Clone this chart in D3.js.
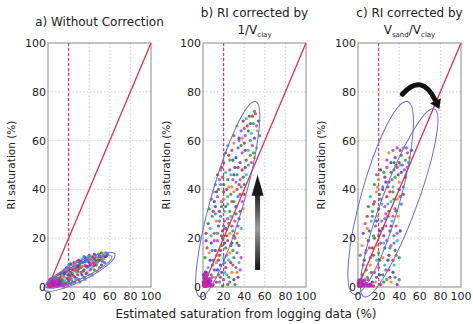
<!DOCTYPE html>
<html><head><meta charset="utf-8">
<script src="https://cdnjs.cloudflare.com/ajax/libs/d3/7.8.5/d3.min.js"></script>
<style>body{margin:0;background:#fff}text{font-family:"DejaVu Sans",Verdana,sans-serif}</style>
</head><body><svg id="c" width="473" height="324"></svg>
<script>
const xTicks = [0,20,40,60,80,100];
const yTicks = [0,20,40,60,80,100];
const palette = ["#e0202a","#22a030","#2a3fd0","#d030d0","#20b8c8","#f08020","#7a30a0","#2e7d32","#c83c64","#4a6af0"];

const ptsA = [[1,0.5],[2,0.3],[3,1],[1.5,1.5],[4,0.8],[5,1.2],[2.5,2],[6,0.5],[7,1.8],[3,0.2],[8,1],[5,2.5],[9,2],[10,1.5],[4,3],[11,0.8],[12,2.5],[6,3.5],[13,1.8],[14,3],[8,4],[15,2.2],[16,4],[10,5],[17,1.5],[18,3.5],[12,5.5],[19,5],[20,2.5],[21,4.5],[14,6],[22,6],[23,3],[24,5.5],[16,7],[25,7],[26,4],[27,6.5],[18,8],[28,8],[29,5],[30,7.5],[20,9],[31,9],[32,6],[33,8.5],[22,9.5],[34,10],[35,7],[36,9],[25,10],[37,11],[38,8],[39,10.5],[28,10.5],[40,12],[41,9],[42,11],[30,11],[43,12.5],[44,10],[45,11.5],[33,11.5],[46,13],[47,10.5],[48,12],[36,12],[49,13.5],[50,11],[51,12.5],[40,13],[52,14],[53,12],[54,13],[55,12.5],[56,14],[57,13],[58,13.5],[45,13.5],[26,2],[30,3],[35,4],[40,5],[45,7],[50,8],[38,6],[33,5],[28,3.5],[22,1.5],[18,1],[15,0.5],[24,2],[42,7.5],[47,9],[20,6.5],[27,9],[32,10.5],[15,5],[11,3.5],[9,3],[7,2.5],[13,4.5],[36,3],[31,2],[43,5],[48,6.5],[52,9],[55,10],[39,8.5],[44,8.5],[29,6.5],[34,6.5],[23,7.5],[19,2],[25,4.5],[41,11.5],[50,12.5],[53,10.5],[37,5.5],[46,9.5],[21,7.5],[17,6],[27,3],
[10,3],[12,4],[14,4.5],[16,5.5],[18,6.5],[20,5],[22,4],[24,7],[26,8],[28,6],[30,9],[32,8],[34,8.5],[36,10.5],[38,11.5],[40,10],[42,9.5],[44,12],[46,11],[48,10],[50,13],[52,11.5],[54,11.5],[56,12.5],[35,12.5],[31,10],[27,7.5],[23,5],[19,3.5],[16,2.5],[13,3],[21,3],[25,8.5],[29,8.5],[33,10],[37,8.5],[41,7],[45,9],[49,11],[39,12.5]];
const clusterA = [[0.5,0.3],[1,1],[1.5,0.5],[2,1.5],[2.5,0.8],[3,0.3],[3.5,1.2],[4,0.6],[1,2],[0.3,1.2],[5,0.4],[2,0.2],[6,1],[4.5,2],[0.8,0.6],[3,2.2],[7,0.5],[1.8,2.8],[5.5,1.5],[8,0.8],[9,0.4],[10,0.9],[6.5,2.4],[4,3.5],[12,1],[2.5,3.2],[14,0.6],[11,2],[8.5,2.2],[16,1.2]];

const ptsB = [[2,1],[4,3],[6,2],[8,5],[10,1],[12,4],[14,7],[16,2],[18,6],[20,3],[22,8],[24,1],[5,8],[3,6],[9,9],[13,10],[17,9],[21,10],[11,7],[7,0.5],[15,5],[19,0.5],[23,5],[1,4],[26,2],[28,6],[30,3],[32,8],[34,4],[36,7],[27,10],[31,1],[35,10],
[2,12],[4,16],[6,14],[8,18],[10,11],[12,15],[14,19],[16,13],[18,17],[20,12],[22,16],[24,19],[26,14],[28,18],[30,12],[3,19],[11,19],[15,11],[19,20],[25,11],[29,15],[31,20],[13,13],[21,18],[33,14],[35,17],[37,12],
[3,22],[5,26],[7,24],[9,29],[11,22],[13,27],[15,25],[17,29],[19,23],[21,27],[23,21],[25,26],[27,29],[29,23],[31,27],[33,22],[35,28],[12,30],[18,21],[24,28],[28,25],[32,30],[37,24],
[6,32],[8,36],[10,39],[12,33],[14,37],[16,31],[18,35],[20,39],[22,33],[24,37],[26,31],[28,35],[30,39],[32,33],[34,37],[36,31],[38,35],[40,38],[15,40],[21,31],[27,38],[33,40],[39,32],[11,35],
[12,42],[14,46],[16,44],[18,49],[20,42],[22,47],[24,44],[26,48],[28,41],[30,46],[32,43],[34,49],[36,44],[38,48],[40,42],[42,46],[44,50],[19,45],[25,41],[31,49],[37,41],[41,49],[17,48],
[20,51],[22,55],[24,58],[26,52],[28,56],[30,59],[32,53],[34,57],[36,51],[38,55],[40,59],[42,52],[44,56],[46,54],[48,58],[50,53],[29,52],[35,60],[41,56],[47,51],[25,54],[37,58],[52,57],[49,55],
[30,62],[33,66],[35,61],[37,64],[39,68],[41,62],[43,66],[45,70],[47,63],[49,67],[51,71],[53,64],[54,68],[46,60],[50,61],[52,66],[48,70],[44,64],[42,69],[50,72],[40,65],[38,61],[46,67],[55,62],
[5,3],[9,4],[13,2],[17,4],[21,6],[25,4],[29,9],[33,6],[7,11],[9,15],[17,15],[23,13],[27,17],[33,18],[8,21],[14,22],[20,25],[26,22],[30,21],[16,27],[22,24],[34,25],[10,31],[18,33],[24,34],[30,35],[36,38],[20,36],[13,39],[17,42],[23,40],[29,44],[35,42],[39,45],[27,46],[33,46]];
const clusterB = [[0.5,0.5],[1,1.5],[1.5,0.4],[2,2.5],[2.5,1],[3,0.3],[3.5,2],[4,0.8],[1,3.5],[0.3,2],[5,0.5],[2,0.2],[6,1.5],[4.5,3],[0.8,0.8],[3,3.8],[7,0.6],[1.8,4.5],[5.5,2.2],[8,1],[9,0.5],[0.5,5],[6.5,3.5],[4,5],[2.5,6],[7.5,2.5]];

const ptsC = [[2,2],[4,5],[6,1],[8,7],[10,3],[12,9],[14,2],[16,6],[18,4],[20,8],[22,1],[24,5],[26,9],[28,3],[30,7],[32,2],[34,6],[36,4],[38,1],[5,9],[15,0.5],[25,2],[35,9],[40,3],
[2,13],[4,17],[6,11],[8,15],[10,19],[12,12],[14,16],[16,20],[18,11],[20,14],[22,18],[24,12],[26,16],[28,19],[30,13],[32,17],[34,11],[36,15],[38,19],[40,12],[11,16],[19,17],[29,11],[35,18],
[5,22],[7,26],[9,29],[11,23],[13,27],[15,21],[17,25],[19,29],[21,23],[23,27],[25,21],[27,25],[29,29],[31,23],[33,27],[35,21],[37,25],[39,29],[41,23],[14,29],[24,24],[34,29],[20,21],
[10,33],[12,37],[14,31],[16,35],[18,39],[20,32],[22,36],[24,40],[26,33],[28,37],[30,31],[32,35],[34,39],[36,32],[38,36],[40,40],[42,34],[44,38],[27,30],[31,39],[37,31],[23,34],
[16,42],[18,46],[20,44],[22,48],[24,41],[26,45],[28,49],[30,43],[32,47],[34,41],[36,45],[38,49],[40,43],[42,47],[44,41],[46,45],[48,49],[29,41],[35,48],[41,50],[25,47],
[28,52],[30,55],[32,51],[34,56],[36,53],[38,57],[40,51],[42,54],[44,57],[46,52],[48,55],[50,53],[52,56],[43,50],[37,50],[47,57],[41,56],[35,51],[49,51],
[9,4],[13,6],[17,2],[21,5],[27,7],[31,4],[7,14],[15,13],[21,11],[25,18],[31,16],[37,13],[9,24],[18,27],[26,28],[32,25],[38,22],[15,34],[21,38],[29,34],[35,36],[41,37],[19,41],[27,43],[33,44],[39,46],[45,48]];
const clusterC = [[0.5,0.5],[1,1.2],[1.5,0.4],[2,2],[2.5,0.8],[3,0.3],[3.5,1.6],[4,0.7],[1,2.8],[0.3,1.6],[5,0.5],[2,0.2],[6,1.2],[4.5,2.4],[0.8,0.8],[3,3],[7,0.6],[8,1.4],[9,0.5],[10,0.8],[11,0.4],[12,1.1],[6.5,2.8],[13,0.5]];

const ellA = [{p1:[-4,-1],p2:[65,13.5],w:9},{p1:[-2,0],p2:[62,12.5],w:7}];
const ellB = [{p1:[-3,-4],p2:[51,76],w:16}];
const ellC = [{p1:[-4,-3],p2:[48,76],w:19},{p1:[6,-4],p2:[74,73],w:17}];

const arrowB = {x:53, y0:7, y1:46};
const arrowC = {from:[43,79], ctrl:[62,88], to:[79,73]};

const panels = [
  {left:48, title:[["a) Without Correction"]], pts:ptsA, cl:clusterA, ell:ellA},
  {left:203, title:[["b) RI corrected by"],["1/V",["clay"]]], pts:ptsB, cl:clusterB, ell:ellB, arrow:"b"},
  {left:358, title:[["c) RI corrected by"],["V",["sand"],"/V",["clay"]]], pts:ptsC, cl:clusterC, ell:ellC, arrow:"c"}
];

const svg = d3.select("#c");
const defs = svg.append("defs");
const g1 = defs.append("linearGradient").attr("id","shaft").attr("x1",0).attr("y1",0).attr("x2",0).attr("y2",1);
g1.append("stop").attr("offset","0%").attr("stop-color","#222");
g1.append("stop").attr("offset","45%").attr("stop-color","#9a9a9a");
g1.append("stop").attr("offset","100%").attr("stop-color","#111");

const plotTop = 43, plotBottom = 287, W = 103;
panels.forEach((p,pi) => {
  const x = d3.scaleLinear().domain([0,100]).range([p.left, p.left+W]);
  const y = d3.scaleLinear().domain([0,100]).range([plotBottom, plotTop]);
  const g = svg.append("g");
  const clipId = "clip"+pi;
  defs.append("clipPath").attr("id",clipId).append("rect").attr("x",p.left-8).attr("y",plotTop).attr("width",W+8).attr("height",plotBottom-plotTop+1);
  g.selectAll(".gx").data(xTicks.slice(1,-1)).join("line").attr("x1",d=>x(d)).attr("x2",d=>x(d)).attr("y1",plotTop).attr("y2",plotBottom)
    .attr("stroke","#c4c4c4").attr("stroke-width",0.8).attr("stroke-dasharray","1.5,2");
  g.selectAll(".gy").data(yTicks.slice(1,-1)).join("line").attr("y1",d=>y(d)).attr("y2",d=>y(d)).attr("x1",p.left).attr("x2",p.left+W)
    .attr("stroke","#c4c4c4").attr("stroke-width",0.8).attr("stroke-dasharray","1.5,2");
  g.append("rect").attr("x",p.left).attr("y",plotTop).attr("width",W).attr("height",plotBottom-plotTop).attr("fill","none").attr("stroke","#8a8a8a").attr("stroke-width",1);
  g.append("line").attr("x1",x(20)).attr("x2",x(20)).attr("y1",plotTop).attr("y2",plotBottom).attr("stroke","#e04060").attr("stroke-width",1.2).attr("stroke-dasharray","3,2");
  const pg = g.append("g").attr("clip-path",`url(#${clipId})`);
  pg.selectAll(".pt").data(p.pts).join("circle").attr("cx",d=>x(d[0])).attr("cy",d=>y(d[1])).attr("r",1.6)
    .attr("fill",(d,i)=>palette[(i*7)%palette.length]).attr("opacity",0.85);
  pg.selectAll(".cl").data(p.cl).join("circle").attr("cx",d=>x(d[0])).attr("cy",d=>y(d[1])).attr("r",1.8)
    .attr("fill",(d,i)=>i%3===0?"#a020c0":"#d020b0").attr("opacity",0.9);
  g.append("line").attr("x1",x(0)).attr("y1",y(0)).attr("x2",x(100)).attr("y2",y(100)).attr("stroke","#e0304a").attr("stroke-width",1.3);
  p.ell.forEach(e => {
    const x1=x(e.p1[0]), y1=y(e.p1[1]), x2=x(e.p2[0]), y2=y(e.p2[1]);
    const cx=(x1+x2)/2, cy=(y1+y2)/2, a=Math.hypot(x2-x1,y2-y1)/2, ang=Math.atan2(y2-y1,x2-x1)*180/Math.PI;
    g.append("ellipse").attr("cx",cx).attr("cy",cy).attr("rx",a).attr("ry",x(e.w)-x(0))
      .attr("transform",`rotate(${ang} ${cx} ${cy})`).attr("fill","none").attr("stroke","#6a6ad8").attr("stroke-width",1);
  });
  if (p.arrow==="b") {
    const ax=x(arrowB.x), yb=y(arrowB.y0), yt=y(arrowB.y1);
    g.append("rect").attr("x",ax-2.5).attr("y",yt+20).attr("width",5).attr("height",yb-yt-20).attr("fill","url(#shaft)");
    g.append("path").attr("d",`M${ax},${yt} L${ax+6},${yt+21} L${ax-6},${yt+21} Z`).attr("fill","#1a1a1a");
  }
  if (p.arrow==="c") {
    const f=[x(arrowC.from[0]),y(arrowC.from[1])], c=[x(arrowC.ctrl[0]),y(arrowC.ctrl[1])], t=[x(arrowC.to[0]),y(arrowC.to[1])];
    const ang=Math.atan2(t[1]-c[1],t[0]-c[0]);
    const hb=[t[0]-9*Math.cos(ang), t[1]-9*Math.sin(ang)];
    g.append("path").attr("d",`M${f[0]},${f[1]} Q${c[0]},${c[1]} ${hb[0]},${hb[1]}`).attr("fill","none").attr("stroke","#111").attr("stroke-width",5).attr("stroke-linecap","round");
    const px=-Math.sin(ang), py=Math.cos(ang);
    g.append("path").attr("d",`M${t[0]},${t[1]} L${hb[0]+6*px},${hb[1]+6*py} L${hb[0]-6*px},${hb[1]-6*py} Z`).attr("fill","#111");
  }
  g.selectAll(".yl").data(yTicks).join("text").attr("x",p.left-2).attr("y",d=>y(d)+4).attr("text-anchor","end")
    .attr("font-size",11).attr("fill","#222").text(d=>d);
  g.selectAll(".xl").data(xTicks).join("text").attr("x",d=>x(d)).attr("y",plotBottom+13).attr("text-anchor","middle")
    .attr("font-size",11).attr("fill","#222").text(d=>d);
  g.append("text").attr("transform",`translate(${p.left-33},${(plotTop+plotBottom)/2}) rotate(-90)`).attr("text-anchor","middle")
    .attr("font-size",10.5).attr("fill","#222").text("RI saturation (%)");
  const cxT = p.left + W/2;
  p.title.forEach((line,li) => {
    const t = g.append("text").attr("x",cxT).attr("y",p.title.length===1?26:17+li*17).attr("text-anchor","middle").attr("font-size",12).attr("fill","#222");
    let sub = false;
    line.forEach(seg => {
      if (Array.isArray(seg)) { t.append("tspan").attr("font-size",7).attr("dy",sub?0:3).text(seg[0]); sub = true; }
      else { t.append("tspan").attr("dy",sub?-3:0).text(seg); sub = false; }
    });
  });
});
svg.append("text").attr("x",246).attr("y",318).attr("text-anchor","middle").attr("font-size",12).attr("fill","#222")
  .text("Estimated saturation from logging data (%)");
</script></body></html>
